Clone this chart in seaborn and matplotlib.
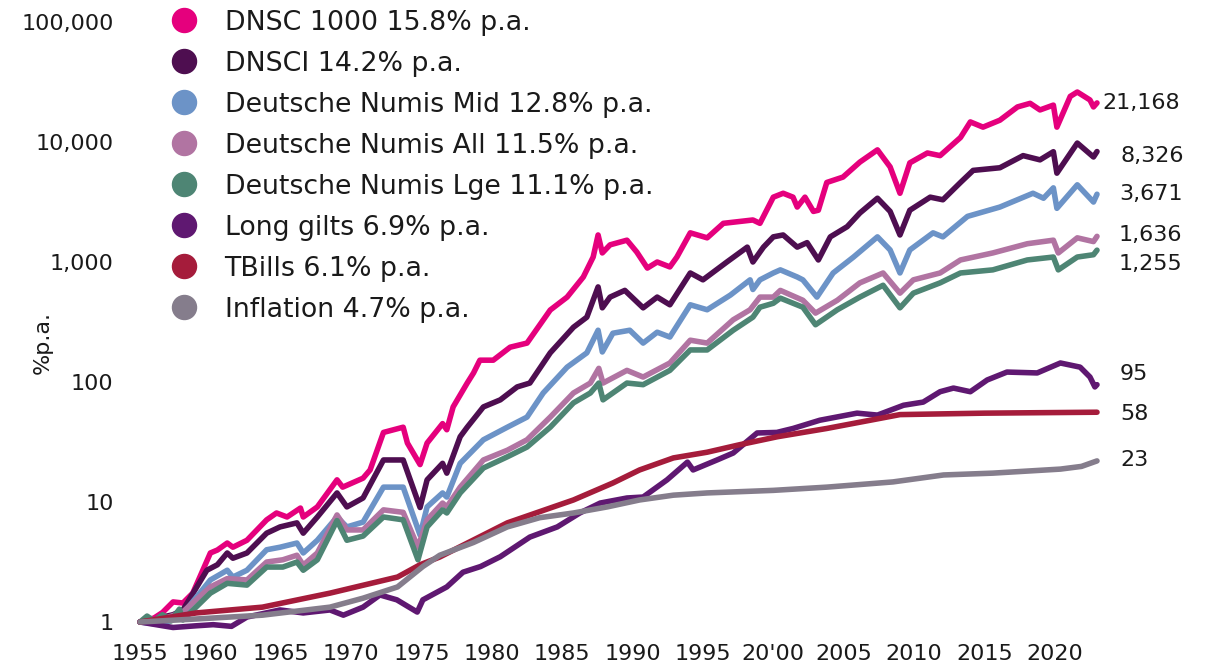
import numpy as np
import pandas as pd
import matplotlib
matplotlib.use("Agg")
import matplotlib.pyplot as plt
from matplotlib.lines import Line2D
import seaborn as sns

# ---------------- data ----------------
dnsc_t = [1955.0, 1956.0, 1956.6, 1957.35, 1958.05, 1958.75, 1960.0, 1960.5, 1961.2, 1961.6, 1962.6, 1964.0, 1964.7,
          1965.45, 1966.4, 1966.6, 1967.6, 1969.0, 1969.4, 1970.85, 1971.35, 1972.3, 1973.7, 1974.0, 1974.9, 1975.4,
          1976.5, 1976.8, 1977.25, 1978.25, 1978.7, 1979.15, 1980.1, 1981.3, 1982.5, 1984.15, 1985.35, 1986.5, 1987.2,
          1987.55, 1987.85, 1988.4, 1989.6, 1990.3, 1991.05, 1991.75, 1992.65, 1993.15, 1994.1, 1995.3, 1996.45,
          1998.55, 1999.05, 2000.0, 2000.7, 2001.4, 2001.7, 2002.25, 2002.85, 2003.2, 2003.8, 2004.95, 2006.15, 2007.4,
          2008.3, 2009.0, 2009.7, 2010.95, 2011.85, 2013.3, 2014.0, 2014.9, 2016.1, 2017.35, 2018.25, 2018.95, 2019.9,
          2020.15, 2021.1, 2021.6, 2022.5, 2022.75, 2023.0]
dnsc_v = [1.0, 1.08, 1.2, 1.47, 1.44, 1.74, 3.76, 3.98, 4.55, 4.2, 4.8, 7.1, 8.1,
          7.5, 8.9, 7.5, 9.1, 15.3, 13.3, 15.8, 18.5, 38, 42, 31, 20.5, 31,
          45, 40, 62, 98, 119, 152, 152, 195, 211, 398, 510, 750, 1100,
          1680, 1190, 1390, 1520, 1210, 890, 1000, 910, 1100, 1750, 1590, 2100,
          2240, 2100, 3470, 3740, 3470, 2870, 3470, 2640, 2700, 4600, 5100, 6800, 8600,
          6200, 3740, 6700, 8100, 7700, 10900, 14700, 13300, 15200, 19600, 21000, 18500, 20300,
          13300, 24000, 26100, 22400, 19600, 21168]

dnsci_t = [1955.0, 1956.0, 1956.6, 1957.35, 1958.05, 1959.75, 1960.5, 1961.2, 1961.6, 1962.6, 1964.0, 1964.95, 1966.15,
           1966.6, 1967.6, 1969.0, 1969.7, 1970.85, 1972.3, 1973.7, 1974.9, 1975.4, 1976.5, 1976.8, 1977.75, 1978.25,
           1979.4, 1980.6, 1981.8, 1982.7, 1984.15, 1985.8, 1986.75, 1987.55, 1987.85, 1988.4, 1989.45, 1990.75,
           1991.75, 1992.65, 1994.1, 1995.0, 1996.7, 1998.15, 1998.55, 1999.3, 2000.0, 2000.7, 2001.7, 2002.4, 2003.2,
           2004.05, 2005.25, 2006.15, 2007.4, 2008.3, 2009.0, 2009.7, 2011.15, 2012.05, 2013.3, 2014.2, 2016.1,
           2017.75, 2018.95, 2019.9, 2020.15, 2021.6, 2022.75, 2023.0]
dnsci_v = [1.0, 1.03, 1.1, 1.15, 1.26, 2.7, 3.0, 3.76, 3.4, 3.76, 5.5, 6.2, 6.7,
           5.5, 7.5, 11.9, 9.1, 10.8, 22.4, 22.4, 9.0, 15.3, 21, 17.4, 35, 42,
           62, 71, 91, 98, 175, 286, 347, 620, 415, 510, 580, 415,
           510, 440, 810, 710, 1000, 1330, 1000, 1330, 1620, 1680, 1330, 1450, 1040,
           1620, 1970, 2560, 3400, 2640, 1680, 2700, 3470, 3300, 4600, 5800, 6100,
           7700, 7100, 8300, 5500, 9800, 7500, 8326]

mid_t = [1955.0, 1956.5, 1958.0, 1960.0, 1961.2, 1961.6, 1962.6, 1964.0, 1964.95, 1966.15, 1966.6, 1967.6, 1969.0,
         1969.7, 1970.85, 1972.3, 1973.7, 1974.9, 1975.4, 1976.5, 1976.8, 1977.75, 1979.4, 1981.1, 1982.5, 1983.65,
         1985.35, 1986.75, 1987.55, 1987.85, 1988.6, 1989.8, 1990.75, 1991.75, 1992.65, 1994.1, 1995.3, 1996.95,
         1998.35, 1998.55, 1999.05, 2000.0, 2000.5, 2001.7, 2002.1, 2003.1, 2004.25, 2005.7, 2007.4, 2008.3, 2009.0,
         2009.7, 2011.35, 2012.05, 2013.8, 2016.1, 2018.45, 2019.2, 2019.9, 2020.15, 2021.6, 2022.75, 2023.0]
mid_v = [1.0, 0.95, 1.15, 2.24, 2.7, 2.37, 2.7, 4.0, 4.2, 4.55, 3.76, 4.8, 7.5,
         6.2, 6.8, 13.3, 13.3, 5.3, 9.1, 11.9, 11, 21, 33, 42, 51, 81,
         133, 175, 270, 178, 255, 270, 211, 260, 237, 440, 400, 530,
         710, 590, 710, 810, 860, 750, 710, 510, 810, 1100, 1620, 1260, 810,
         1260, 1750, 1620, 2400, 2870, 3740, 3400, 4150, 2800, 4400, 3160, 3671]

all_t = [1955.0, 1956.5, 1958.0, 1960.0, 1961.2, 1962.6, 1964.0, 1965.15, 1966.15, 1966.6, 1967.6, 1969.0, 1969.7,
         1970.85, 1972.3, 1973.7, 1974.75, 1975.4, 1976.5, 1976.8, 1977.75, 1979.4, 1981.1, 1982.5, 1984.15, 1985.8,
         1987.0, 1987.6, 1987.9, 1989.6, 1990.75, 1992.65, 1994.1, 1995.3, 1997.15, 1998.35, 1999.05, 2000.0, 2000.5,
         2002.1, 2003.0, 2004.55, 2006.15, 2007.8, 2009.0, 2009.95, 2011.85, 2013.3, 2015.6, 2018.05, 2019.9,
         2020.25, 2021.6, 2022.75, 2023.0]
all_v = [1.0, 1.05, 1.2, 1.96, 2.3, 2.24, 3.16, 3.3, 3.6, 2.98, 3.76, 7.8, 5.85,
         5.85, 8.6, 8.2, 4.2, 7.1, 9.8, 9.1, 13.3, 22.4, 27, 33, 51, 81,
         98, 130, 98, 125, 110, 144, 223, 211, 330, 400, 510, 510, 580,
         480, 375, 480, 670, 810, 550, 710, 810, 1040, 1190, 1420, 1520,
         1190, 1590, 1480, 1636]

lge_t = [1955.0, 1955.5, 1956.0, 1956.6, 1957.2, 1957.8, 1958.05, 1960.0, 1961.2, 1962.6, 1964.0, 1965.15, 1966.15,
         1966.6, 1967.6, 1969.0, 1969.7, 1970.85, 1972.3, 1973.7, 1974.75, 1975.4, 1976.5, 1976.8, 1977.75, 1979.4,
         1981.1, 1982.5, 1984.15, 1985.8, 1987.0, 1987.6, 1987.9, 1989.6, 1990.75, 1992.65, 1994.1, 1995.3, 1997.15,
         1998.55, 1999.05, 2000.0, 2000.5, 2002.1, 2003.0, 2004.55, 2006.15, 2007.8, 2009.0, 2009.95, 2011.85,
         2013.3, 2015.6, 2018.05, 2019.9, 2020.25, 2021.6, 2022.75, 2023.0]
lge_v = [1.0, 1.12, 1.02, 1.15, 1.02, 1.28, 1.04, 1.74, 2.1, 2.03, 2.87, 2.87, 3.16,
         2.7, 3.3, 7.0, 4.8, 5.2, 7.5, 7.1, 3.3, 6.2, 8.6, 8.1, 11.9, 19.2,
         23.8, 28.7, 42, 67, 81, 98, 71, 98, 95, 125, 185, 185, 270,
         347, 420, 453, 500, 420, 300, 400, 510, 640, 415, 550, 670,
         810, 860, 1040, 1100, 860, 1100, 1150, 1255]

gilts_t = [1955.0, 1957.35, 1959.0, 1960.2, 1961.5, 1962.6, 1964.95, 1966.6, 1968.5, 1969.45, 1970.85, 1972.05, 1973.25,
           1974.7, 1975.1, 1976.8, 1977.95, 1979.2, 1980.6, 1982.7, 1984.65, 1986.25, 1987.7, 1989.6, 1990.75, 1992.45,
           1993.9, 1994.3, 1996.0, 1997.15, 1998.85, 2000.25, 2001.4, 2003.3, 2005.95, 2007.4, 2009.25, 2010.65,
           2011.85, 2012.8, 2014.0, 2015.2, 2016.6, 2018.75, 2020.4, 2021.8, 2022.5, 2022.85, 2023.0]
gilts_v = [1.0, 0.9, 0.93, 0.95, 0.92, 1.1, 1.26, 1.19, 1.26, 1.14, 1.33, 1.68, 1.53,
           1.21, 1.53, 1.96, 2.6, 2.9, 3.5, 5.1, 6.2, 8.1, 9.8, 10.8, 11.0, 15.3,
           21.5, 18.5, 22.4, 25.6, 37.6, 38, 41, 48, 55, 53, 64, 68,
           83, 89, 83, 104, 121, 119, 144, 133, 110, 91, 95]

tbills_t = [1955.0, 1959.0, 1963.7, 1968.5, 1973.3, 1974.9, 1976.3, 1981.1, 1985.8, 1988.6, 1990.5, 1992.9, 1995.3,
            1997.6, 2000.3, 2003.8, 2009.0, 2015.0, 2023.0]
tbills_v = [1.0, 1.19, 1.33, 1.74, 2.37, 3.0, 3.48, 6.7, 10.4, 14.4, 18.5, 23.3, 26,
            30, 35, 41, 53.5, 55, 56]

infl_t = [1955.0, 1959.0, 1963.7, 1968.5, 1970.85, 1973.3, 1975.1, 1976.3, 1978.7, 1981.1, 1983.4, 1985.8, 1988.2,
          1990.5, 1992.9, 1995.3, 2000.0, 2003.8, 2008.5, 2012.1, 2015.6, 2020.4, 2021.9, 2023.0]
infl_v = [1.0, 1.06, 1.14, 1.33, 1.58, 1.96, 2.9, 3.6, 4.6, 6.2, 7.4, 8.1, 9.1,
          10.4, 11.4, 11.9, 12.5, 13.3, 14.7, 16.8, 17.4, 18.8, 19.8, 22]

series_names = ["DNSC 1000 15.8% p.a.", "DNSCI 14.2% p.a.", "Deutsche Numis Mid 12.8% p.a.",
                "Deutsche Numis All 11.5% p.a.", "Deutsche Numis Lge 11.1% p.a.", "Long gilts 6.9% p.a.",
                "TBills 6.1% p.a.", "Inflation 4.7% p.a."]
end_labels = ["21,168", "8,326", "3,671", "1,636", "1,255", "95", "58", "23"]
colors = ["#E5007D", "#4E0E50", "#6C93C7", "#B174A2", "#4E8574", "#5F1871", "#A51C3B", "#857D8C"]

x_tick_years = list(range(1955, 2021, 5))
x_tick_labels = ["1955", "1960", "1965", "1970", "1975", "1980", "1985", "1990", "1995", "20'00",
                 "2005", "2010", "2015", "2020"]
y_ticks = [1, 10, 100, 1000, 10000, 100000]
y_tick_labels = ["1", "10", "100", "1,000", "10,000", "100,000"]

# ---------------- build long frame ----------------
all_series = [(dnsc_t, dnsc_v), (dnsci_t, dnsci_v), (mid_t, mid_v), (all_t, all_v), (lge_t, lge_v),
              (gilts_t, gilts_v), (tbills_t, tbills_v), (infl_t, infl_v)]
frames = []
for name, (t, v) in zip(series_names, all_series):
    frames.append(pd.DataFrame({"year": t, "value": v, "series": name}))
df = pd.concat(frames, ignore_index=True)

# ---------------- plot ----------------
sns.set_theme(style="white")
plt.rcParams["font.family"] = ["DejaVu Sans"]
TXT = "#1a1a1a"
SMALL = 16

W, H = 1205, 666
fig = plt.figure(figsize=(W / 100, H / 100), dpi=100)
ax = fig.add_axes([140 / W, (H - 622) / H, 957 / W, 600 / H])

sns.lineplot(data=df, x="year", y="value", hue="series", hue_order=series_names,
             palette=colors, estimator=None, sort=False, linewidth=4.0, ax=ax, legend=False)
for ln in ax.lines:
    ln.set_clip_on(False)
    ln.set_solid_joinstyle("round")
    ln.set_solid_capstyle("round")

ax.set_yscale("log")
ax.set_xlim(1955, 2023)
ax.set_ylim(1, 100000)
for s in ax.spines.values():
    s.set_visible(False)
ax.grid(False)

ax.set_yticks(y_ticks)
ax.set_yticklabels(y_tick_labels)
ax.yaxis.set_minor_locator(matplotlib.ticker.NullLocator())
ax.tick_params(axis="y", length=0, pad=19, labelsize=SMALL, labelcolor=TXT)

ax.set_xticks(x_tick_years)
ax.set_xticklabels(x_tick_labels)
ax.tick_params(axis="x", length=0, pad=16, labelsize=SMALL, labelcolor=TXT)

ax.set_xlabel("")
ax.set_ylabel("")
fig.text(43 / W, 1 - 342 / H, "%p.a.", rotation=90, ha="center", va="center",
         fontsize=SMALL, color=TXT)

# end labels
end_offsets = [(5, 0), (24, -4), (22, 0), (22, 1), (22, -14), (23, 11), (23, -2), (23, 1)]
for (t, v), lab, (dx, dy) in zip(all_series, end_labels, end_offsets):
    ax.annotate(lab, xy=(t[-1], v[-1]), xytext=(dx * 0.72, dy * 0.72), textcoords="offset points",
                ha="left", va="center", fontsize=SMALL, color=TXT, annotation_clip=False)

# legend
handles = [Line2D([], [], linestyle="none", marker="o", markersize=17.3, markerfacecolor=c,
                  markeredgecolor=c) for c in colors]
leg = fig.legend(handles, series_names, loc="upper left", bbox_to_anchor=(171 / W, 1 - 9.5 / H),
                 frameon=False, fontsize=19.3, labelspacing=0.56, handletextpad=1.0,
                 handlelength=1.0, borderaxespad=0, borderpad=0)
for txt in leg.get_texts():
    txt.set_color(TXT)

fig.savefig("out.png", dpi=100)
